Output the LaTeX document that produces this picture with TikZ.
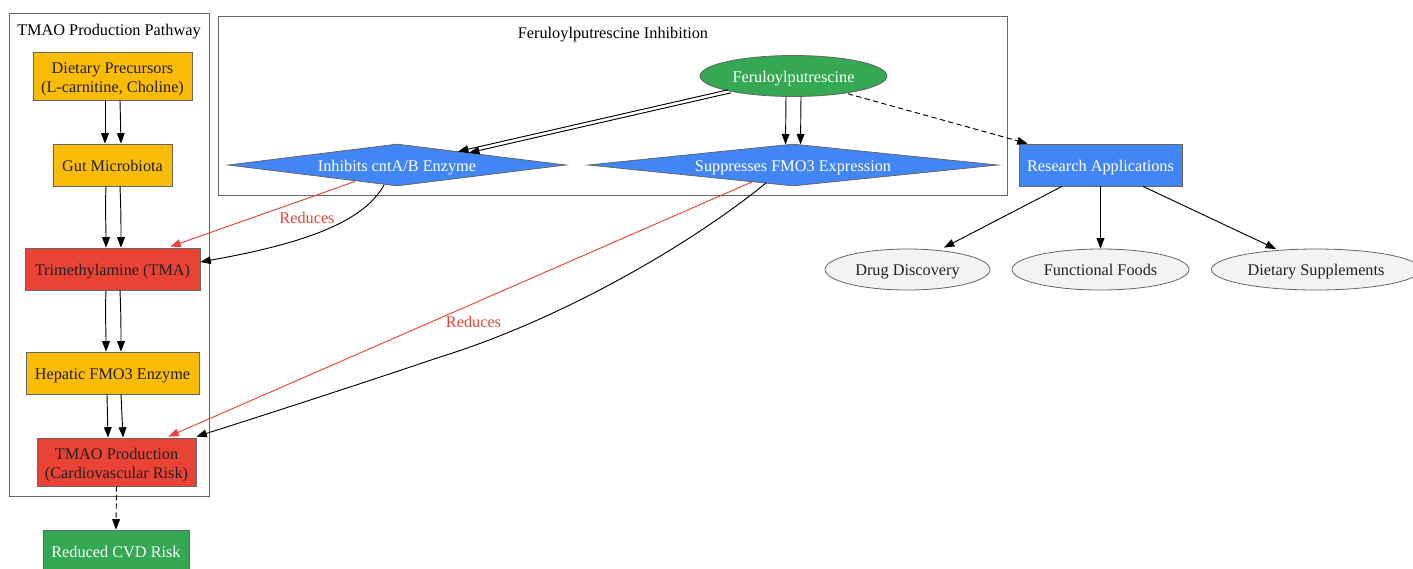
\documentclass[tikz,border=0pt]{standalone}
\usepackage{fontspec}
\setmainfont{Liberation Serif}
\usetikzlibrary{shapes.geometric,arrows.meta,calc}
\newdimen\pxu \pxu=0.75pt
\definecolor{cyel}{HTML}{FBBC05}
\definecolor{cred}{HTML}{EA4335}
\definecolor{cblue}{HTML}{4285F4}
\definecolor{cgreen}{HTML}{34A853}
\definecolor{cgray}{HTML}{F1F3F4}
\definecolor{cbord}{HTML}{666666}
\definecolor{ctext}{HTML}{202124}
\begin{document}
\begin{tikzpicture}[x=0.75pt,y=-0.75pt,
  font=\fontsize{12.2}{14}\selectfont,
  cluster/.style={draw=cbord,line width=0.6pt,rectangle,inner sep=0},
  one/.style={text height=9.4pt,text depth=0pt},
  two/.style={text height=10pt,text depth=14pt},
  rbox/.style={draw=cbord,line width=0.6pt,rectangle,inner sep=0,text=ctext,one},
  dia/.style={draw=cbord,line width=0.6pt,diamond,shape aspect=8,inner sep=0,fill=cblue,text=white,one},
  ell/.style={draw=cbord,line width=0.6pt,ellipse,inner sep=0,one},
  edge/.style={draw=black,line width=0.7pt,-{Triangle[length=7.8pt,width=5.8pt]}},
  redge/.style={draw=cred,line width=0.7pt,-{Triangle[length=7.8pt,width=5.8pt]}},
  dedge/.style={edge,dash pattern=on 4pt off 2.5pt},
  lbl/.style={text=cred,inner sep=0},
  clbl/.style={inner sep=0,one}
]
\useasboundingbox (0,0) rectangle (1413,568);
% clusters
\node[cluster,minimum width=200\pxu,minimum height=483\pxu] (c1) at (109,254.5) {};
\node[clbl] (c1l) at (109,29) {TMAO Production Pathway};
\node[cluster,minimum width=789\pxu,minimum height=179\pxu] (c2) at (612.5,105.5) {};
\node[clbl] (c2l) at (613,32) {Feruloylputrescine Inhibition};
% left column
\node[rbox,two,fill=cyel,minimum width=159\pxu,minimum height=48\pxu] (dp) at (112.5,76) {\begin{tabular}[t]{@{}c@{}}Dietary Precursors\\(L-carnitine, Choline)\end{tabular}};
\node[rbox,fill=cyel,minimum width=119\pxu,minimum height=42\pxu] (gm) at (112.5,165) {Gut Microbiota};
\node[rbox,fill=cred,minimum width=175\pxu,minimum height=42\pxu] (tma) at (112.5,269) {Trimethylamine (TMA)};
\node[rbox,fill=cyel,minimum width=173\pxu,minimum height=42\pxu] (hf) at (112.5,373) {Hepatic FMO3 Enzyme};
\node[rbox,two,fill=cred,minimum width=159\pxu,minimum height=48\pxu] (tmao) at (116.5,462) {\begin{tabular}[t]{@{}c@{}}TMAO Production\\(Cardiovascular Risk)\end{tabular}};
\node[rbox,fill=cgreen,text=white,minimum width=146\pxu,minimum height=42\pxu] (cvd) at (116,551) {Reduced CVD Risk};
% inhibition cluster
\node[ell,fill=cgreen,text=white,minimum width=187\pxu,minimum height=41\pxu] (fp) at (793.5,76) {Feruloylputrescine};
\node[dia,minimum width=338\pxu,minimum height=42\pxu] (inh) at (397,165) {Inhibits cntA/B Enzyme};
\node[dia,minimum width=410\pxu,minimum height=42\pxu] (sup) at (793,165) {Suppresses FMO3 Expression};
% applications
\node[rbox,fill=cblue,text=white,minimum width=163\pxu,minimum height=42\pxu] (ra) at (1100.5,165) {Research Applications};
\node[ell,fill=cgray,text=ctext,minimum width=165\pxu,minimum height=41\pxu] (dd) at (907.5,269.5) {Drug Discovery};
\node[ell,fill=cgray,text=ctext,minimum width=177\pxu,minimum height=41\pxu] (ff) at (1100.5,269.5) {Functional Foods};
\node[ell,fill=cgray,text=ctext,minimum width=209\pxu,minimum height=41\pxu] (ds) at (1316,269.5) {Dietary Supplements};
% left column edges (doubled)
\draw[edge] ($(dp.south)+(-7.5,0)$) -- ($(gm.north)+(-7.5,0)$);
\draw[edge] ($(dp.south)+(7.5,0)$) -- ($(gm.north)+(8.5,0)$);
\draw[edge] ($(gm.south)+(-6.5,0)$) .. controls +(-1,25) and +(0,-25) .. ($(tma.north)+(-6.5,0)$);
\draw[edge] ($(gm.south)+(7.5,0)$) .. controls +(1,25) and +(0,-25) .. ($(tma.north)+(8.5,0)$);
\draw[edge] ($(tma.south)+(-6.5,0)$) .. controls +(-1,25) and +(0,-25) .. ($(hf.north)+(-6.5,0)$);
\draw[edge] ($(tma.south)+(7.5,0)$) .. controls +(1,25) and +(0,-25) .. ($(hf.north)+(8.5,0)$);
\draw[edge] ($(hf.south)+(-5.5,0)$) -- ($(tmao.north)+(-8.5,0)$);
\draw[edge] ($(hf.south)+(8.5,0)$) -- ($(tmao.north)+(6.5,0)$);
\draw[dedge] (tmao.south) -- (cvd.north);
% feruloylputrescine edges
\draw[edge] ($(fp.south west)+(1,-1)$) -- (458,151.5);
\draw[edge] ($(fp.south west)+(4,2)$) -- (469,152.8);
\draw[edge] ($(fp.south)+(-7.5,0)$) -- ($(sup.north)+(-7.5,0.8)$);
\draw[edge] ($(fp.south)+(7.5,0)$) -- ($(sup.north)+(7.5,0.8)$);
\draw[dedge] ($(fp.south east)+(-12,3)$) -- ($(ra.north west)+(9,0)$);
% inhibition to pathway
\draw[redge] (355,181.5) -- ($(tma.north east)+(-30,-1)$);
\node[lbl] (rl1) at (307,218) {Reduces};
\draw[edge] (384,185) .. controls (362,225) and (295,245) .. (tma.east |- 0,262);
\draw[redge] (753,181.5) -- ($(tmao.north east)+(-28,-1)$);
\node[lbl] (rl2) at (473.5,322) {Reduces};
\draw[edge] (766,183) .. controls (690,245) and (560,320) .. (440,357) .. controls (360,384) and (280,410) .. ($(tmao.north east)+(0,-1)$);
% applications edges
\draw[edge] ($(ra.south)+(-38.5,0)$) -- ($(dd.north)+(36.5,-1)$);
\draw[edge] (ra.south) -- (ff.north);
\draw[edge] ($(ra.south)+(42.5,0)$) -- (1276,249);
\end{tikzpicture}
\end{document}
